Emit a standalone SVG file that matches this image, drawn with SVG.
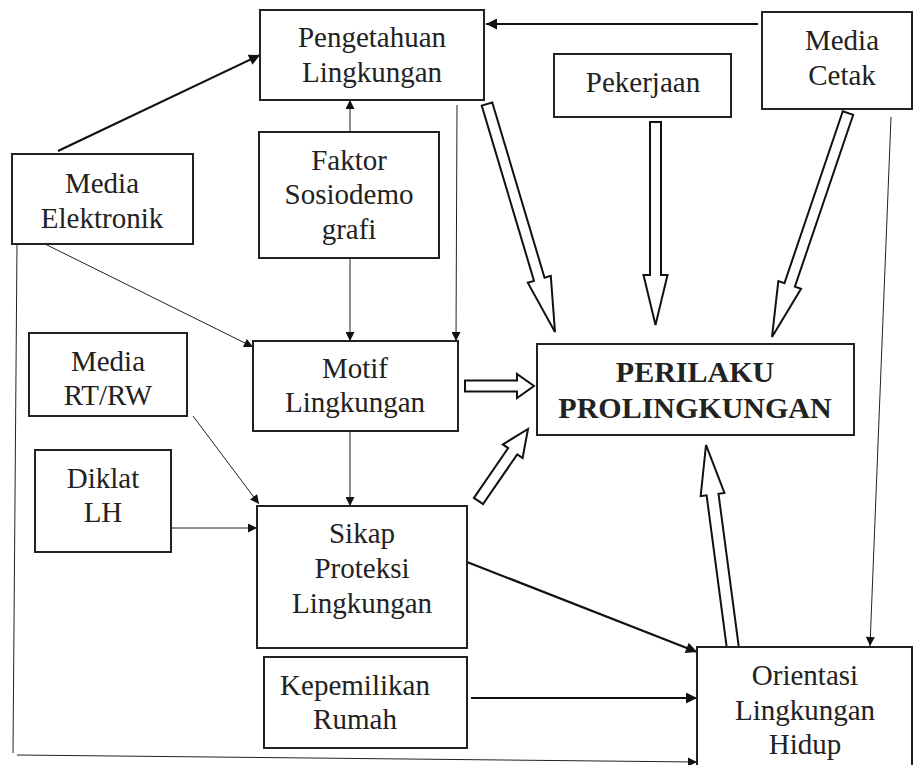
<svg xmlns="http://www.w3.org/2000/svg" width="913" height="765" viewBox="0 0 913 765" font-family="Liberation Serif, Times New Roman, serif">
<style>
.box{fill:#fff;stroke:#222;stroke-width:2}
.t{font-size:29px;fill:#222;text-anchor:middle}
.b{font-weight:bold;font-size:30px}
.thin{fill:none;stroke:#222;stroke-width:1;marker-end:url(#ah)}
.thick{fill:none;stroke:#111;stroke-width:2.2;marker-end:url(#ahb)}
.line{fill:none;stroke:#222;stroke-width:1}
.blk{fill:#fff;stroke:#111;stroke-width:2;stroke-linejoin:miter}
</style>
<defs>
<marker id="ah" viewBox="0 0 10 10" refX="10" refY="5" markerWidth="11" markerHeight="9" orient="auto" markerUnits="userSpaceOnUse"><path d="M0,0 L10,5 L0,10 z" fill="#111"/></marker>
<marker id="ahb" viewBox="0 0 10 10" refX="10" refY="5" markerWidth="14" markerHeight="11" orient="auto" markerUnits="userSpaceOnUse"><path d="M0,0 L10,5 L0,10 z" fill="#111"/></marker>
</defs>
<rect width="913" height="765" fill="#fff"/>

<g id="connectors">
<line class="thick" x1="58" y1="151" x2="260" y2="55"/>
<line class="thick" x1="758" y1="24" x2="486" y2="24"/>
<line class="thin" x1="350" y1="132" x2="350" y2="100"/>
<line class="thin" x1="350" y1="258" x2="350" y2="341"/>
<line class="thin" x1="457" y1="105" x2="456" y2="341"/>
<line class="thin" x1="45" y1="244" x2="253" y2="347"/>
<line class="thin" x1="350" y1="431" x2="350" y2="506"/>
<line class="thin" x1="193" y1="416" x2="259" y2="504"/>
<line class="thin" x1="171" y1="528" x2="257" y2="528"/>
<line class="thick" x1="467" y1="562" x2="697" y2="652"/>
<line class="thick" x1="471" y1="698" x2="697" y2="698"/>
<line class="thin" x1="891" y1="117" x2="870" y2="646"/>
<polyline class="line" points="17,244 13,753"/>
<line class="thin" x1="17" y1="755" x2="697" y2="762"/>
<polygon class="blk" transform="translate(487,104) rotate(73.39)" points="0,-5.5 182.9,-5.5 182.9,-12 237.9,0 182.9,12 182.9,5.5 0,5.5"/>
<polygon class="blk" transform="translate(655.5,122) rotate(90)" points="0,-5.5 153,-5.5 153,-12 203,0 153,12 153,5.5 0,5.5"/>
<polygon class="blk" transform="translate(848,113) rotate(108.74)" points="0,-5.5 181.5,-5.5 181.5,-12 236.5,0 181.5,12 181.5,5.5 0,5.5"/>
<polygon class="blk" transform="translate(465,386)" points="0,-5.5 52,-5.5 52,-12 69,0 52,12 52,5.5 0,5.5"/>
<polygon class="blk" transform="translate(478.5,501) rotate(-55.5)" points="0,-5.5 60.4,-5.5 60.4,-12 87.4,0 60.4,12 60.4,5.5 0,5.5"/>
<polygon class="blk" transform="translate(733,649) rotate(-97.54)" points="0,-6 155.8,-6 155.8,-12 205.8,0 155.8,12 155.8,6 0,6"/>
</g>

<g id="pengetahuan"><rect class="box" x="260" y="10" width="224" height="90"/><text class="t" x="372" y="47">Pengetahuan</text><text class="t" x="372" y="82">Lingkungan</text></g>
<g id="media-cetak"><rect class="box" x="762" y="12" width="150" height="97"/><text class="t" x="842" y="50">Media</text><text class="t" x="842" y="85">Cetak</text></g>
<g id="pekerjaan"><rect class="box" x="554" y="54" width="177" height="63"/><text class="t" x="643" y="92">Pekerjaan</text></g>
<g id="media-elektronik"><rect class="box" x="12" y="154" width="181" height="90"/><text class="t" x="102" y="193">Media</text><text class="t" x="102" y="228">Elektronik</text></g>
<g id="faktor"><rect class="box" x="259" y="132" width="180" height="126"/><text class="t" x="349" y="170">Faktor</text><text class="t" x="349" y="204">Sosiodemo</text><text class="t" x="349" y="239">grafi</text></g>
<g id="media-rtrw"><rect class="box" x="29" y="333" width="158" height="83"/><text class="t" x="108" y="371">Media</text><text class="t" x="108" y="405">RT/RW</text></g>
<g id="motif"><rect class="box" x="253" y="341" width="205" height="90"/><text class="t" x="355" y="378">Motif</text><text class="t" x="355" y="412">Lingkungan</text></g>
<g id="perilaku"><rect class="box" x="537" y="344" width="317" height="91"/><text class="t b" x="695" y="382">PERILAKU</text><text class="t b" x="695" y="418">PROLINGKUNGAN</text></g>
<g id="diklat"><rect class="box" x="35" y="450" width="136" height="102"/><text class="t" x="103" y="488">Diklat</text><text class="t" x="103" y="522">LH</text></g>
<g id="sikap"><rect class="box" x="257" y="506" width="210" height="142"/><text class="t" x="362" y="543">Sikap</text><text class="t" x="362" y="578">Proteksi</text><text class="t" x="362" y="613">Lingkungan</text></g>
<g id="kepemilikan"><rect class="box" x="264" y="657" width="203" height="91"/><text class="t" x="355" y="695">Kepemilikan</text><text class="t" x="355" y="729">Rumah</text></g>
<g id="orientasi"><rect class="box" x="697" y="647" width="215" height="130"/><text class="t" x="805" y="685">Orientasi</text><text class="t" x="805" y="720">Lingkungan</text><text class="t" x="805" y="754">Hidup</text></g>
</svg>
